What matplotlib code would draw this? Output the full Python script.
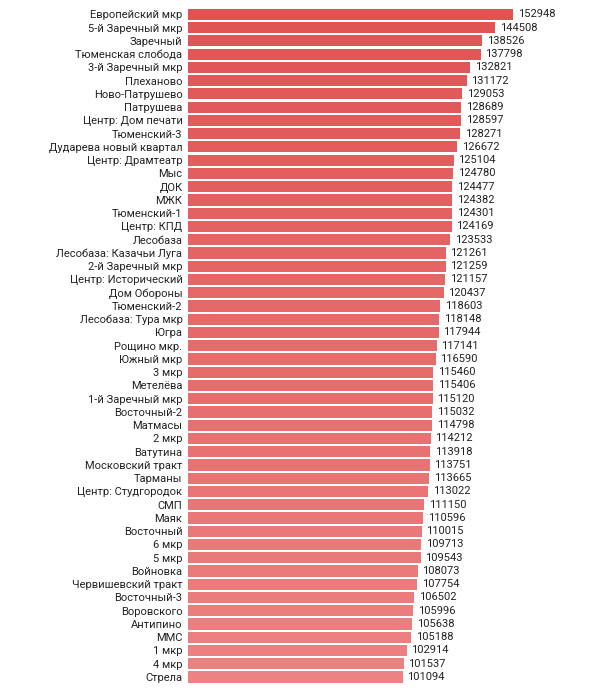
import numpy as np
import matplotlib
matplotlib.use('Agg')
from matplotlib import pyplot as plt
from matplotlib.colors import LinearSegmentedColormap

plt.rcParams['font.family'] = ['Roboto', 'DejaVu Sans']

# Data
districts = [
    'Европейский мкр', '5-й Заречный мкр', 'Заречный', 'Тюменская слобода',
    '3-й Заречный мкр', 'Плеханово', 'Ново-Патрушево', 'Патрушева',
    'Центр: Дом печати', 'Тюменский-3', 'Дударева новый квартал',
    'Центр: Драмтеатр', 'Мыс', 'ДОК', 'МЖК', 'Тюменский-1', 'Центр: КПД',
    'Лесобаза', 'Лесобаза: Казачьи Луга', '2-й Заречный мкр',
    'Центр: Исторический', 'Дом Обороны', 'Тюменский-2', 'Лесобаза: Тура мкр',
    'Югра', 'Рощино мкр.', 'Южный мкр', '3 мкр', 'Метелёва',
    '1-й Заречный мкр', 'Восточный-2', 'Матмасы', '2 мкр', 'Ватутина',
    'Московский тракт', 'Тарманы', 'Центр: Студгородок', 'СМП', 'Маяк',
    'Восточный', '6 мкр', '5 мкр', 'Войновка', 'Червишевский тракт',
    'Восточный-3', 'Воровского', 'Антипино', 'ММС', '1 мкр', '4 мкр', 'Стрела',
]
prices = [
    152948, 144508, 138526, 137798, 132821, 131172, 129053, 128689,
    128597, 128271, 126672, 125104, 124780, 124477, 124382, 124301, 124169,
    123533, 121261, 121259, 121157, 120437, 118603, 118148, 117944, 117141,
    116590, 115460, 115406, 115120, 115032, 114798, 114212, 113918, 113751,
    113665, 113022, 111150, 110596, 110015, 109713, 109543, 108073, 107754,
    106502, 105996, 105638, 105188, 102914, 101537, 101094,
]

n = len(districts)
y = np.arange(n)

# Colour fades from top to bottom
cmap = LinearSegmentedColormap.from_list('reds', ['#e05353', '#ec8282'])
colors = [cmap(i / (n - 1)) for i in range(n)]

fig = plt.figure(figsize=(6.09, 6.96), dpi=100)
ax = fig.add_axes([0.3087, 0.0178, 0.691, 0.971])

ax.barh(y, prices, height=0.84, color=colors)
for yi, v in zip(y, prices):
    ax.text(v + 2200, yi, str(v), va='center', ha='left',
            fontsize=8, color='#222222')

ax.set_yticks(y)
ax.set_yticklabels(districts, fontsize=8, color='#222222')
ax.tick_params(axis='y', length=0, pad=4)
ax.set_xticks([])
ax.set_xlim(0, 198100)
ax.set_ylim(n - 0.5, -0.5)
for s in ax.spines.values():
    s.set_visible(False)

fig.savefig('out.png', dpi=100)
